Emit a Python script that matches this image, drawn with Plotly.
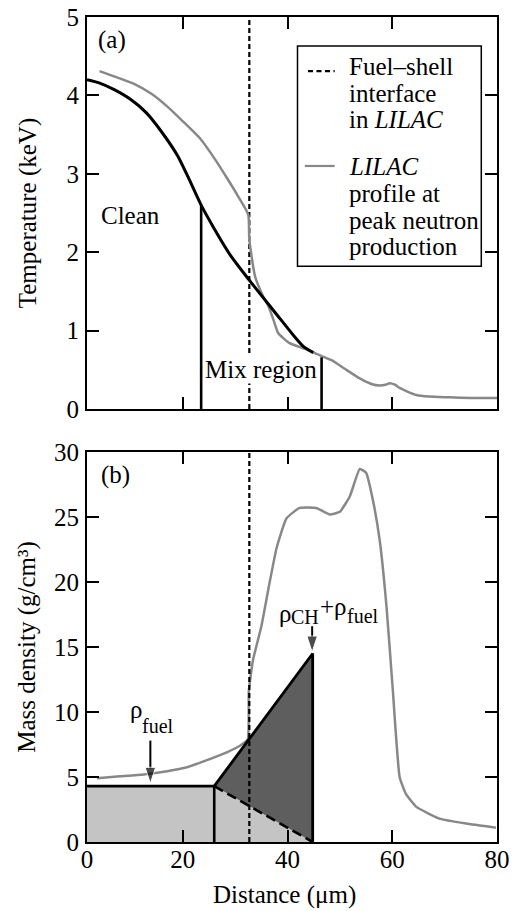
import plotly.graph_objects as go

# ---------------- data ----------------
# axis extent (µm) and tick labels
x_min, x_max = 1.7, 80
x_tick_vals = [1.7, 20, 40, 60, 80]
x_tick_text = ["0", "20", "40", "60", "80"]
T_ticks = [0, 1, 2, 3, 4, 5]
rho_ticks = [0, 5, 10, 15, 20, 25, 30]

# Panel (a): model temperature profile (black)
model_x = [1.7, 4, 7, 10, 13, 16, 19, 21, 23.5, 26, 29, 32.5, 35, 38, 41, 43, 44.9]
model_T = [4.2, 4.16, 4.07, 3.95, 3.78, 3.53, 3.23, 2.96, 2.6, 2.3, 1.97, 1.66, 1.45, 1.2, 0.95, 0.8, 0.72]

# Panel (a): LILAC temperature profile (gray)
lilac_x = [4.1, 7, 10.6, 14, 17, 20, 23.3, 26, 28.4, 30.5, 32.5, 32.7, 33.8, 35.4, 36.3, 37.3, 38.2,
           40.4, 43.6, 46, 48.5, 51, 53.8, 56, 57.6, 58.7, 59.5, 60.5, 61.4, 63, 64.6, 67, 70.9, 75, 80]
lilac_T = [4.31, 4.24, 4.15, 4.02, 3.86, 3.67, 3.45, 3.2, 2.95, 2.72, 2.48, 2.16, 1.69, 1.43, 1.32, 1.14, 0.97,
           0.84, 0.76, 0.69, 0.62, 0.51, 0.39, 0.32, 0.30, 0.31, 0.33, 0.31, 0.27, 0.22, 0.18, 0.16, 0.15, 0.14, 0.14]

interface_x = 32.7          # fuel-shell interface in LILAC
clean_edge_x, clean_edge_T = 23.5, 2.6
mix_edge_x, mix_edge_T = 46.5, 0.66

# Panel (b): LILAC mass density (gray)
dens_x = [3.6, 8, 12.5, 17, 20.8, 24.6, 28.4, 30.9, 32.4, 32.6, 33.4, 35, 36.5, 37.9, 39.8, 42.3, 45.5,
          48.1, 50, 51.9, 53.8, 55, 56.3, 57.6, 58.9, 60.1, 61.4, 62.6, 64.6, 69, 74.1, 79.8]
dens_rho = [4.9, 5.05, 5.2, 5.45, 5.75, 6.3, 6.9, 7.4, 7.9, 11.6, 14.0, 16.6, 19.8, 22.6, 24.9, 25.7, 25.7,
            25.2, 25.4, 26.6, 28.7, 28.4, 26.3, 23.2, 18.1, 11.7, 5.0, 3.7, 2.7, 1.8, 1.42, 1.1]

# Panel (b): model density regions
fuel_edge_x = 26.0
mix_end_x = 44.8
rho_fuel = 4.3
rho_mix_top = 14.5

# arrows (x position, tail value, head value)
fuel_arrow = (13.8, 7.8, 4.5)
mix_arrow = (44.7, 16.6, 14.6)

# ---------------- style ----------------
FONT = "Liberation Serif, Times New Roman, serif"
FS = 25
FS_SUB = 20
GRAY = "#888888"
LIGHT = "#c4c4c4"
DARK = "#5e5e5e"

fig = go.Figure()

# ---- panel (a) ----
fig.add_trace(go.Scatter(x=[interface_x, interface_x], y=[T_ticks[0], T_ticks[-1]], mode="lines",
                         line=dict(color="black", width=2.2, dash="5px,3px"), xaxis="x", yaxis="y"))
fig.add_trace(go.Scatter(x=lilac_x, y=lilac_T, mode="lines",
                         line=dict(color=GRAY, width=2.5, shape="spline", smoothing=0.5),
                         xaxis="x", yaxis="y"))
fig.add_trace(go.Scatter(x=model_x, y=model_T, mode="lines",
                         line=dict(color="black", width=3, shape="spline", smoothing=0.6),
                         xaxis="x", yaxis="y"))
fig.add_trace(go.Scatter(x=[clean_edge_x, clean_edge_x], y=[0, clean_edge_T], mode="lines",
                         line=dict(color="black", width=2.6), xaxis="x", yaxis="y"))
fig.add_trace(go.Scatter(x=[mix_edge_x, mix_edge_x], y=[0, mix_edge_T], mode="lines",
                         line=dict(color="black", width=2.6), xaxis="x", yaxis="y"))

# ---- panel (b) ----
fig.add_trace(go.Scatter(x=[x_min, mix_end_x, fuel_edge_x, x_min], y=[0, 0, rho_fuel, rho_fuel],
                         fill="toself", fillcolor=LIGHT, mode="none", xaxis="x2", yaxis="y2"))
fig.add_trace(go.Scatter(x=[fuel_edge_x, mix_end_x, mix_end_x], y=[rho_fuel, rho_mix_top, 0],
                         fill="toself", fillcolor=DARK, mode="none", xaxis="x2", yaxis="y2"))
fig.add_trace(go.Scatter(x=dens_x, y=dens_rho, mode="lines",
                         line=dict(color=GRAY, width=2.5, shape="spline", smoothing=0.4),
                         xaxis="x2", yaxis="y2"))
fig.add_trace(go.Scatter(x=[interface_x, interface_x], y=[rho_ticks[0], rho_ticks[-1]], mode="lines",
                         line=dict(color="black", width=2.2, dash="5px,3px"), xaxis="x2", yaxis="y2"))
fig.add_trace(go.Scatter(x=[x_min, fuel_edge_x, fuel_edge_x], y=[rho_fuel, rho_fuel, 0], mode="lines",
                         line=dict(color="black", width=2.6), xaxis="x2", yaxis="y2"))
fig.add_trace(go.Scatter(x=[fuel_edge_x, mix_end_x, mix_end_x], y=[rho_fuel, rho_mix_top, 0], mode="lines",
                         line=dict(color="black", width=2.8), xaxis="x2", yaxis="y2"))
fig.add_trace(go.Scatter(x=[fuel_edge_x, mix_end_x], y=[rho_fuel, 0], mode="lines",
                         line=dict(color="black", width=2.6, dash="10px,5px"), xaxis="x2", yaxis="y2"))
for ax_x, tail, head in (fuel_arrow, mix_arrow):
    fig.add_trace(go.Scatter(x=[ax_x, ax_x], y=[tail, head], mode="lines+markers",
                             line=dict(color="black", width=2),
                             marker=dict(symbol="arrow", angleref="previous", size=[0, 17], color="black"),
                             xaxis="x2", yaxis="y2"))

axis_common = dict(showline=True, linecolor="black", linewidth=2, mirror="ticks", ticks="inside",
                   ticklen=12, tickwidth=2, tickcolor="black", showgrid=False, zeroline=False,
                   automargin=False,
                   tickfont=dict(family=FONT, size=FS, color="black"))

fig.update_layout(
    width=515, height=911,
    margin=dict(l=87, r=18, t=17, b=69, autoexpand=False),
    paper_bgcolor="white", plot_bgcolor="white",
    showlegend=False,
    font=dict(family=FONT, size=FS, color="black"),
    xaxis=dict(domain=[0, 1], anchor="y", range=[x_min, x_max], tickvals=[20, 40, 60],
               showticklabels=False, **axis_common),
    yaxis=dict(domain=[0.5248, 1], anchor="x", range=[0, 5], tickvals=T_ticks, ticklabelstandoff=1,
               title=dict(text="Temperature (keV)", standoff=23,
                          font=dict(family=FONT, size=FS, color="black")),
               **axis_common),
    xaxis2=dict(domain=[0, 1], anchor="y2", range=[x_min, x_max], tickvals=x_tick_vals,
                ticktext=x_tick_text, ticklabelstandoff=-6, **axis_common),
    yaxis2=dict(domain=[0, 0.4727], anchor="x2", range=[0, 30], tickvals=rho_ticks, ticklabelstandoff=1,
                title=dict(text="Mass density (g/cm³)", standoff=11,
                           font=dict(family=FONT, size=FS, color="black")),
                **axis_common),
)

# legend box (panel a)
fig.add_shape(type="rect", xref="x", yref="y", x0=41.9, x1=77, y0=1.82, y1=4.63,
              line=dict(color="black", width=1.5), fillcolor="white", layer="above")
fig.add_shape(type="line", xref="x", yref="y", x0=43.9, x1=49.0, y0=4.31, y1=4.31,
              line=dict(color="black", width=2.2, dash="5px,3.5px"))
fig.add_shape(type="line", xref="x", yref="y", x0=43.3, x1=49.0, y0=3.10, y1=3.10,
              line=dict(color=GRAY, width=2.2))

legend_lines = [("Fuel–shell", 4.37), ("interface", 4.03), ("in <i>LILAC</i>", 3.69),
                ("<i>LILAC</i>", 3.09), ("profile at", 2.75), ("peak neutron", 2.41), ("production", 2.07)]
for txt, yv in legend_lines:
    fig.add_annotation(text=txt, x=51.3, y=yv, xref="x", yref="y", xanchor="left", yanchor="middle",
                       showarrow=False, font=dict(family=FONT, size=FS, color="black"))

fig.add_annotation(text="(a)", x=6.4, y=4.71, xref="x", yref="y", showarrow=False)
fig.add_annotation(text="Clean", x=10.0, y=2.47, xref="x", yref="y", showarrow=False)
fig.add_annotation(text="Mix region", x=35.0, y=0.51, xref="x", yref="y", showarrow=False,
                   bgcolor="white", borderpad=0)
fig.add_annotation(text="(b)", x=7.1, y=28.2, xref="x2", yref="y2", showarrow=False)

# density labels: symbol + lowered subscript pieces
label_pieces = [
    ("ρ", FS, 9.7, 10.2),
    ("fuel", FS_SUB, 12.0, 8.9),
    ("ρ", FS, 38.2, 17.55),
    ("CH", FS_SUB, 40.5, 17.3),
    ("+ρ", FS, 46.0, 18.1),
    ("fuel", FS_SUB, 51.2, 17.35),
]
for txt, size, xv, yv in label_pieces:
    fig.add_annotation(text=txt, x=xv, y=yv, xref="x2", yref="y2", xanchor="left", yanchor="middle",
                       showarrow=False, borderpad=0, font=dict(family=FONT, size=size, color="black"))

# x-axis title
fig.add_annotation(text="Distance (μm)", xref="x2 domain", yref="y2 domain", x=0.482, y=-0.136,
                   xanchor="center", yanchor="middle", showarrow=False)

fig.write_html(
    "out.html",
    config={"displayModeBar": False},
    post_script="document.body.style.margin='0';document.body.style.padding='0';"
                "document.documentElement.style.overflow='hidden';",
)
